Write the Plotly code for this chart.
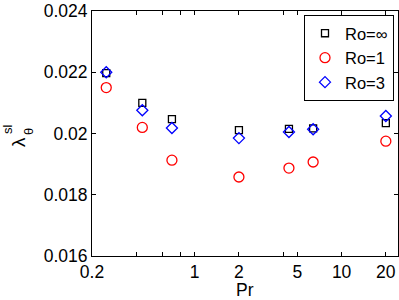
import plotly.graph_objects as go
import math

pr = [0.25, 0.44, 0.7, 2, 4.38, 6.4, 20]
ro_inf = [0.02197, 0.02100, 0.02047, 0.02011, 0.02015, 0.02017, 0.02034]
ro_1 = [0.02150, 0.02020, 0.01913, 0.01858, 0.01887, 0.01907, 0.01975]
ro_3 = [0.02200, 0.02076, 0.02018, 0.01985, 0.02005, 0.02014, 0.02057]

x_tickvals = [0.2, 0.4, 0.6, 0.8, 1, 2, 4, 5, 10, 20]
x_ticktext = ["0.2", "", "", "", "1", "2", "", "5", "10", "20"]
y_tickvals = [0.016, 0.018, 0.020, 0.022, 0.024]
y_ticktext = ["0.016", "0.018", "0.02", "0.022", "0.024"]

font = "Liberation Sans, Arial, Helvetica, sans-serif"
W, H = 399, 300
L, R, T, B = 92, 1, 11, 44
pw, ph = W - L - R, H - T - B

def px(xp):
    return (xp - L) / pw

def py(yp):
    return (H - B - yp) / ph

fig = go.Figure()
fig.add_trace(go.Scatter(x=pr, y=ro_inf, mode="markers", name="Ro=∞",
                         marker=dict(symbol="square-open", size=7, color="black",
                                     line=dict(width=1.3, color="black"))))
fig.add_trace(go.Scatter(x=pr, y=ro_1, mode="markers", name="Ro=1",
                         marker=dict(symbol="circle-open", size=10, color="red",
                                     line=dict(width=1.3, color="red"))))
fig.add_trace(go.Scatter(x=pr, y=ro_3, mode="markers", name="Ro=3",
                         marker=dict(symbol="diamond-open", size=8.5, color="#0000ff",
                                     line=dict(width=1.3, color="#0000ff"))))

fs = 17.5
fig.update_layout(
    width=W, height=H,
    margin=dict(l=L, r=R, t=T, b=B, autoexpand=False),
    paper_bgcolor="white", plot_bgcolor="white",
    font=dict(family=font, size=fs, color="black"),
    showlegend=True,
    legend=dict(x=px(394), y=py(15), xanchor="right", yanchor="top",
                bordercolor="black", borderwidth=1, bgcolor="white",
                font=dict(size=16.5), tracegroupgap=0, itemwidth=30),
    xaxis=dict(type="log", range=[math.log10(0.2), math.log10(24.2)],
               tickvals=x_tickvals, ticktext=x_ticktext,
               ticks="inside", ticklen=4, tickcolor="black", tickwidth=1,
               showline=True, linecolor="black", linewidth=1, mirror="ticks",
               showgrid=False, zeroline=False, automargin=False,
               tickfont=dict(size=fs)),
    yaxis=dict(range=[0.016, 0.024],
               tickvals=y_tickvals, ticktext=y_ticktext,
               ticks="inside", ticklen=4, tickcolor="black", tickwidth=1,
               showline=True, linecolor="black", linewidth=1, mirror="ticks",
               showgrid=False, zeroline=False, automargin=False,
               tickfont=dict(size=fs)),
    annotations=[
        dict(text="Pr", xref="paper", yref="paper", x=px(245), y=py(289.5),
             xanchor="center", yanchor="middle", showarrow=False, font=dict(size=fs)),
        dict(text="λ", xref="paper", yref="paper", x=px(18), y=py(142),
             xanchor="center", yanchor="middle", showarrow=False, textangle=-90,
             font=dict(size=19)),
        dict(text="sl", xref="paper", yref="paper", x=px(7), y=py(129),
             xanchor="center", yanchor="middle", showarrow=False, textangle=-90,
             font=dict(size=13)),
        dict(text="θ", xref="paper", yref="paper", x=px(28), y=py(132),
             xanchor="center", yanchor="middle", showarrow=False, textangle=-90,
             font=dict(size=13)),
    ],
)

fig.write_html("out.html", config={"displayModeBar": False},
               post_script="document.body.style.margin='0';document.body.style.overflow='hidden';")
